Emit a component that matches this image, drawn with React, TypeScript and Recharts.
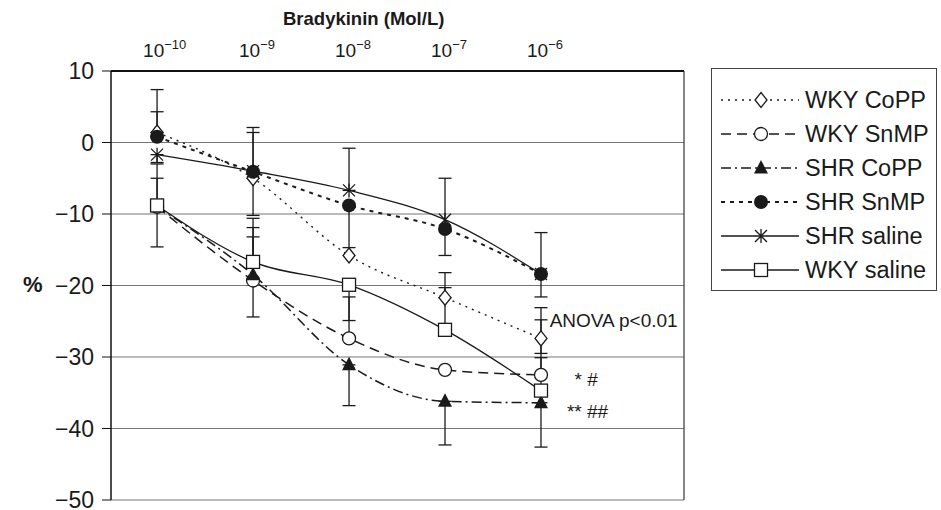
import {
  LineChart, Line, XAxis, YAxis, CartesianGrid, ErrorBar, ReferenceLine, ReferenceDot, Legend,
} from 'recharts'

// x positions: 0..4 stand for 10^-10 .. 10^-6 mol/L
const doses = [0, 1, 2, 3, 4]
const doseExponents = ['−10', '−9', '−8', '−7', '−6']
const yTicks = [10, 0, -10, -20, -30, -40, -50]

const wkyCopp = [1.4, -5.0, -15.8, -21.7, -27.4]
const wkySnmp = [-9.0, -19.3, -27.4, -31.8, -32.5]
const shrCopp = [-9.0, -18.5, -31.1, -36.2, -36.4]
const shrSnmp = [0.8, -4.1, -8.8, -12.1, -18.4]
const shrSaline = [-1.7, -4.0, -6.7, -10.8, -18.4]
const wkySaline = [-8.8, -16.7, -19.9, -26.2, -34.7]

// error bars as [below, above], null = no bar
type Err = [number, number] | null
const wkyCoppErr: Err[] = [[0, 2.9], [5.2, 0], null, [0, 3.5], [2.1, 2.6]]
const wkySnmpErr: Err[] = [[0, 4.0], [0, 6.1], [0, 5.8], null, [0, 9.4]]
const shrCoppErr: Err[] = [null, [5.9, 7.9], [5.7, 0], [6.1, 0], [6.2, 0]]
const shrSnmpErr: Err[] = [[0, 6.6], [0, 6.2], [5.9, 0], [3.7, 7.1], [0, 5.8]]
const shrSalineErr: Err[] = [[1.1, 0], [0, 5.4], [0, 5.9], null, [3.2, 0]]
const wkySalineErr: Err[] = [[5.8, 5.8], [0, 4.8], [5.0, 0], [0, 5.9], [0, 4.6]]

const FONT = '"Liberation Sans", Arial, sans-serif'
const INK = '#1a1a1a'

type MarkerKind = 'diamond' | 'circle' | 'triangle' | 'dot' | 'star' | 'square'

const series: { key: string; name: string; values: number[]; err: Err[]; dash?: string; width: number; marker: MarkerKind }[] = [
  { key: 'wkyCopp', name: 'WKY CoPP', values: wkyCopp, err: wkyCoppErr, dash: '2 5', width: 1.4, marker: 'diamond' },
  { key: 'wkySnmp', name: 'WKY SnMP', values: wkySnmp, err: wkySnmpErr, dash: '10 6', width: 1.5, marker: 'circle' },
  { key: 'shrCopp', name: 'SHR CoPP', values: shrCopp, err: shrCoppErr, dash: '10 4 2 4', width: 1.5, marker: 'triangle' },
  { key: 'shrSnmp', name: 'SHR SnMP', values: shrSnmp, err: shrSnmpErr, dash: '4 5', width: 2, marker: 'dot' },
  { key: 'shrSaline', name: 'SHR saline', values: shrSaline, err: shrSalineErr, width: 1.3, marker: 'star' },
  { key: 'wkySaline', name: 'WKY saline', values: wkySaline, err: wkySalineErr, width: 1.3, marker: 'square' },
]

const rows = doses.map((d, i) => {
  const r: Record<string, unknown> = { dose: d }
  series.forEach(s => {
    r[s.key] = s.values[i]
    r[s.key + 'Err'] = s.err[i]
  })
  return r
})

function Marker({ kind, cx, cy }: { kind: MarkerKind; cx: number; cy: number }) {
  switch (kind) {
    case 'diamond':
      return <path d={`M${cx},${cy - 7.5}L${cx + 6},${cy}L${cx},${cy + 7.5}L${cx - 6},${cy}Z`} fill="#fff" stroke={INK} strokeWidth={1.3} />
    case 'circle':
      return <circle cx={cx} cy={cy} r={6.5} fill="#fff" stroke={INK} strokeWidth={1.3} />
    case 'triangle':
      return <path d={`M${cx},${cy - 8}L${cx + 7},${cy + 5.5}L${cx - 7},${cy + 5.5}Z`} fill={INK} />
    case 'dot':
      return <circle cx={cx} cy={cy} r={7} fill={INK} />
    case 'star':
      return <path d={`M${cx - 6},${cy - 6}L${cx + 6},${cy + 6}M${cx + 6},${cy - 6}L${cx - 6},${cy + 6}M${cx},${cy - 7}L${cx},${cy + 7}`} stroke={INK} strokeWidth={1.3} fill="none" />
    case 'square':
      return <rect x={cx - 6.5} y={cy - 6.5} width={13} height={13} fill="#fff" stroke={INK} strokeWidth={1.3} />
  }
}

function DoseTick({ x, payload }: any) {
  return (
    <text x={x - 14} y={57} textAnchor="start" fontSize={19} fill={INK} fontFamily={FONT}>
      10<tspan dy={-8} fontSize={13}>{doseExponents[payload.value]}</tspan>
    </text>
  )
}

function LegendBox() {
  return (
    <svg width={226} height={224} style={{ display: 'block' }}>
      <rect x={0.5} y={0.5} width={225} height={222} fill="#fff" stroke="#444" strokeWidth={1} />
      {series.map((s, i) => {
        const y = 32 + i * 34
        return (
          <g key={s.key}>
            <line x1={10} x2={88} y1={y} y2={y} stroke={INK} strokeWidth={s.width} strokeDasharray={s.dash} />
            <Marker kind={s.marker} cx={50} cy={y} />
            <text x={94} y={y + 8} fontSize={23.5} fill={INK} fontFamily={FONT}>{s.name}</text>
          </g>
        )
      })}
    </svg>
  )
}

export default function App() {
  return (
    <div style={{ position: 'absolute', left: 0, top: 0, width: 941, height: 510, background: '#fff', fontFamily: FONT, overflow: 'hidden' }}>
      <div style={{ position: 'absolute', left: 283, top: 8, fontWeight: 'bold', fontSize: 18.5, color: INK }}>
        Bradykinin (Mol/L)
      </div>
      <div style={{ position: 'absolute', left: 23, top: 272, fontWeight: 'bold', fontSize: 22, color: INK }}>%</div>
      <LineChart width={941} height={516} data={rows} margin={{ top: 41, right: 257, bottom: 16, left: 0 }}>
        <CartesianGrid vertical={false} stroke="#777" strokeWidth={1.2} />
        <XAxis
          dataKey="dose" type="number" orientation="top" domain={[-0.48, 5.49]} ticks={doses}
          height={30} tick={<DoseTick />} tickLine={false} axisLine={{ stroke: '#111', strokeWidth: 2 }}
          allowDataOverflow
        />
        <YAxis
          type="number" domain={[-50, 10]} ticks={yTicks} width={111} interval={0}
          tickFormatter={(v: number) => (v < 0 ? `−${-v}` : `${v}`)}
          tick={{ fontSize: 23, fill: INK, fontFamily: FONT }} tickSize={9} tickMargin={8}
          tickLine={{ stroke: '#111' }} axisLine={{ stroke: '#111', strokeWidth: 1.5 }}
        />
        <ReferenceLine x={5.49} stroke="#444" strokeWidth={1.3} />
        {series.map(s => (
          <Line
            key={s.key} dataKey={s.key} name={s.name} type="monotone" stroke={INK} strokeWidth={s.width}
            strokeDasharray={s.dash} isAnimationActive={false} activeDot={false}
            dot={(p: any) => <Marker key={`${s.key}-${p.index}`} kind={s.marker} cx={p.cx} cy={p.cy} />}
          >
            <ErrorBar dataKey={`${s.key}Err`} direction="y" width={6.5} stroke={INK} strokeWidth={1.3} isAnimationActive={false} />
          </Line>
        ))}
        <ReferenceDot x={4.09} y={-24.9} r={0} label={{ value: 'ANOVA p<0.01', position: 'right', offset: 0, fontSize: 19, fill: INK, fontFamily: FONT }} />
        <ReferenceDot x={4.35} y={-33.1} r={0} label={{ value: '* #', position: 'right', offset: 0, fontSize: 19, fill: INK, fontFamily: FONT }} />
        <ReferenceDot x={4.27} y={-37.6} r={0} label={{ value: '** ##', position: 'right', offset: 0, fontSize: 19, fill: INK, fontFamily: FONT }} />
        <Legend
          layout="vertical" align="center" verticalAlign="middle" content={<LegendBox />}
          wrapperStyle={{ left: 711, top: 68, width: 226, height: 224 }}
        />
      </LineChart>
    </div>
  )
}
